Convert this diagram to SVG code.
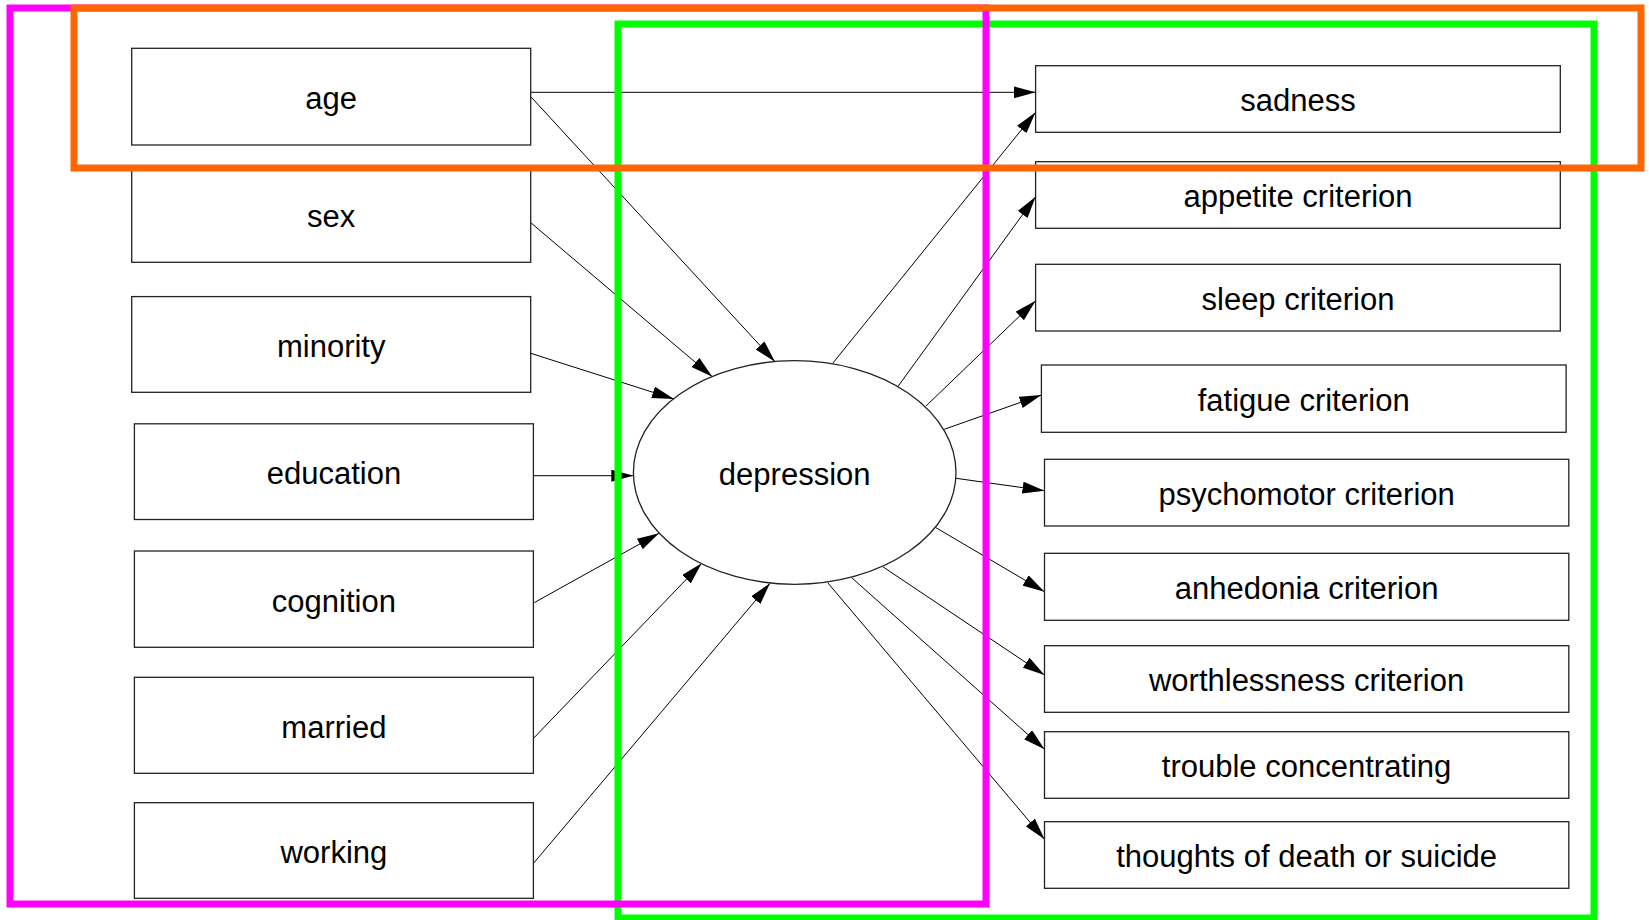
<svg xmlns="http://www.w3.org/2000/svg" width="1649" height="920" viewBox="0 0 1649 920">
<style>
.box{fill:#fff;stroke:#222;stroke-width:1.3}
.lbl{font-family:"Liberation Sans",Arial,sans-serif;font-size:31px;fill:#000;text-anchor:middle}
.edge{stroke:#000;stroke-width:1;fill:none;marker-end:url(#arr)}
.grp{fill:none;stroke-width:7}
</style>
<defs>
<marker id="arr" markerUnits="userSpaceOnUse" markerWidth="22" markerHeight="12" refX="22" refY="6" orient="auto">
<path d="M0,0 L22,6 L0,12 z" fill="#000"/>
</marker>
</defs>
<rect width="1649" height="920" fill="#fff"/>
<g id="connectors">
<line class="edge" x1="530.8" y1="92.3" x2="1035.6" y2="92.3"/>
<line class="edge" x1="530.8" y1="96.7" x2="775" y2="361.7"/>
<line class="edge" x1="530.8" y1="222.7" x2="712.3" y2="376.7"/>
<line class="edge" x1="531" y1="353.4" x2="674" y2="399"/>
<line class="edge" x1="533.5" y1="475.7" x2="633.3" y2="475.7"/>
<line class="edge" x1="534.3" y1="602.6" x2="659" y2="533.3"/>
<line class="edge" x1="533.5" y1="738.3" x2="701.7" y2="563.3"/>
<line class="edge" x1="533.5" y1="863.3" x2="770" y2="583.3"/>
<line class="edge" x1="832.7" y1="363.3" x2="1035.6" y2="112.3"/>
<line class="edge" x1="898.3" y1="386" x2="1035.6" y2="196.7"/>
<line class="edge" x1="926" y1="406" x2="1035.6" y2="300.7"/>
<line class="edge" x1="944.3" y1="429.3" x2="1041.4" y2="395"/>
<line class="edge" x1="956" y1="478.3" x2="1044.5" y2="490.7"/>
<line class="edge" x1="936" y1="527.7" x2="1044.5" y2="591.7"/>
<line class="edge" x1="882.7" y1="566.7" x2="1044.5" y2="675"/>
<line class="edge" x1="851.7" y1="577.7" x2="1044.5" y2="749.3"/>
<line class="edge" x1="827.7" y1="582.7" x2="1044.5" y2="839.3"/>
</g>
<g id="age"><rect class="box" x="131.7" y="48.3" width="399" height="96.7"/><text class="lbl" x="331.2" y="109">age</text></g>
<g id="sex"><rect class="box" x="131.7" y="165.8" width="399" height="96.5"/><text class="lbl" x="331.2" y="226.5">sex</text></g>
<g id="minority"><rect class="box" x="131.7" y="296.6" width="399" height="95.7"/><text class="lbl" x="331.2" y="356.8">minority</text></g>
<g id="education"><rect class="box" x="134.4" y="423.8" width="399" height="95.7"/><text class="lbl" x="333.9" y="484">education</text></g>
<g id="cognition"><rect class="box" x="134.4" y="551" width="399" height="96.3"/><text class="lbl" x="333.9" y="611.5">cognition</text></g>
<g id="married"><rect class="box" x="134.4" y="677.3" width="399" height="96"/><text class="lbl" x="333.9" y="737.6">married</text></g>
<g id="working"><rect class="box" x="134.4" y="802.7" width="399" height="95.6"/><text class="lbl" x="333.9" y="862.8">working</text></g>
<g id="depression"><ellipse class="box" cx="794.7" cy="472.5" rx="161.3" ry="111.8"/><text class="lbl" x="794.7" y="485">depression</text></g>
<g id="sadness"><rect class="box" x="1035.6" y="65.7" width="524.7" height="66.6"/><text class="lbl" x="1298" y="111.3">sadness</text></g>
<g id="appetite"><rect class="box" x="1035.6" y="161.7" width="524.7" height="66.6"/><text class="lbl" x="1298" y="207.3">appetite criterion</text></g>
<g id="sleep"><rect class="box" x="1035.6" y="264.3" width="524.7" height="66.7"/><text class="lbl" x="1298" y="310">sleep criterion</text></g>
<g id="fatigue"><rect class="box" x="1041.4" y="365" width="524.7" height="67.3"/><text class="lbl" x="1303.7" y="411">fatigue criterion</text></g>
<g id="psychomotor"><rect class="box" x="1044.5" y="459.3" width="524.3" height="66.7"/><text class="lbl" x="1306.6" y="505">psychomotor criterion</text></g>
<g id="anhedonia"><rect class="box" x="1044.5" y="553.3" width="524.3" height="67"/><text class="lbl" x="1306.6" y="599.1">anhedonia criterion</text></g>
<g id="worthlessness"><rect class="box" x="1044.5" y="645.7" width="524.3" height="66.6"/><text class="lbl" x="1306.6" y="691.3">worthlessness criterion</text></g>
<g id="trouble"><rect class="box" x="1044.5" y="731.7" width="524.3" height="66.6"/><text class="lbl" x="1306.6" y="777.3">trouble concentrating</text></g>
<g id="thoughts"><rect class="box" x="1044.5" y="821.7" width="524.3" height="66.6"/><text class="lbl" x="1306.6" y="867.3">thoughts of death or suicide</text></g>
<g id="groups">
<rect class="grp" stroke="#00ff00" x="618" y="24" width="976" height="894"/>
<rect class="grp" stroke="#ff00ff" x="10" y="8" width="976" height="896"/>
<rect class="grp" stroke="#ff6600" x="74" y="8" width="1567" height="160"/>
</g>
</svg>
